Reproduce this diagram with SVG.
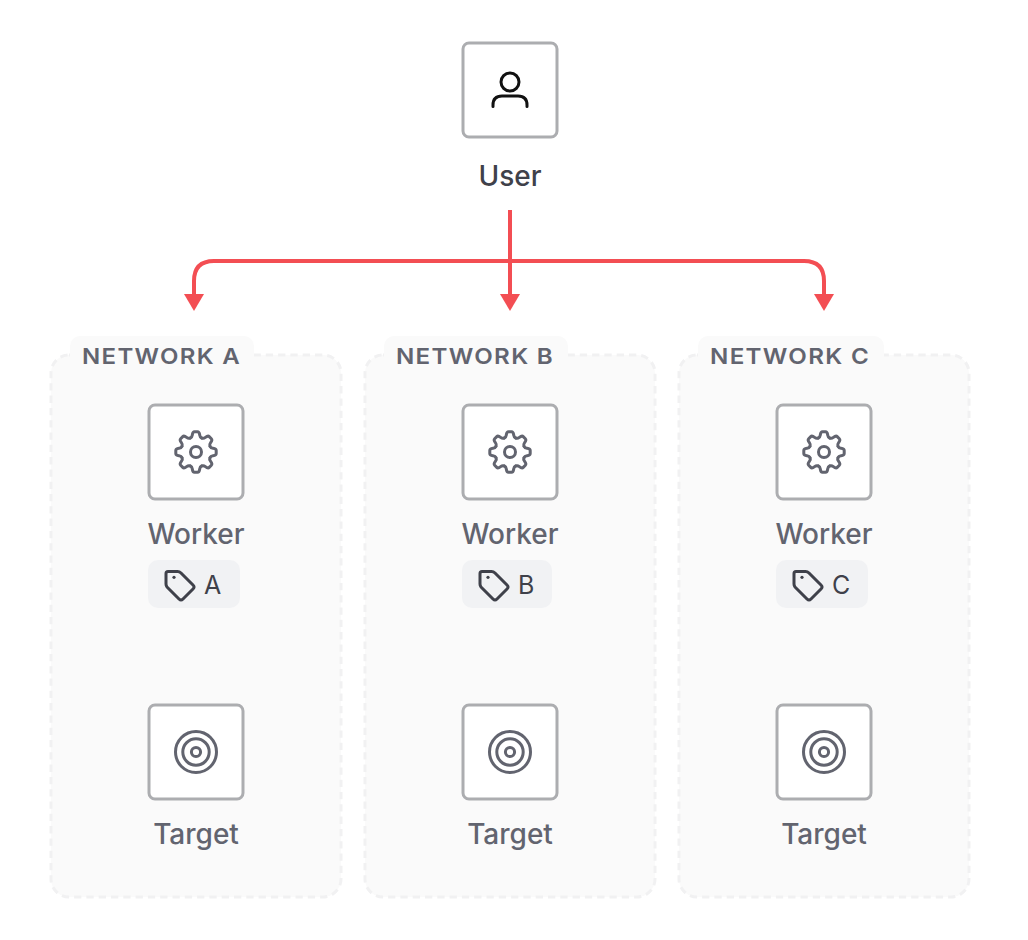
<svg xmlns="http://www.w3.org/2000/svg" xmlns:xlink="http://www.w3.org/1999/xlink" width="1028" height="940" viewBox="0 0 1028 940">
<style>
text{font-family:Inter,"Liberation Sans",sans-serif;}
.panel{fill:#fafafa;stroke:#f1f1f2;stroke-width:3;stroke-dasharray:7.300 5;}
.tab{fill:#fafafa;}
.net{font-size:22px;font-weight:600;fill:#62646f;letter-spacing:1.200px;}
.box{fill:#fff;stroke:#acadb0;stroke-width:3;}
.lab{font-size:28px;font-weight:500;fill:#62646f;text-anchor:middle;}
.chip{fill:#f1f2f4;}
.chiptext{font-size:25px;fill:#3f414a;}
.ico{fill:none;stroke:#62646f;stroke-width:3;stroke-linecap:round;stroke-linejoin:round;}
.conn{fill:none;stroke:#f34e53;stroke-width:4;}
.head{fill:#f34e53;}
</style>
<defs>
<g id="gear" class="ico">
<circle r="5.500"/>
<path id="t" d="M-5.700-14Q-4-14.600-3.700-17Q-3.300-20.200-1.500-20.200H1.500Q3.300-20.200 3.700-17Q4-14.600 5.700-14"/>
<use xlink:href="#t" href="#t" transform="rotate(45)"/>
<use xlink:href="#t" href="#t" transform="rotate(90)"/>
<use xlink:href="#t" href="#t" transform="rotate(135)"/>
<use xlink:href="#t" href="#t" transform="rotate(180)"/>
<use xlink:href="#t" href="#t" transform="rotate(225)"/>
<use xlink:href="#t" href="#t" transform="rotate(270)"/>
<use xlink:href="#t" href="#t" transform="rotate(315)"/>
</g>
<g id="target" class="ico"><circle r="20.500"/><circle r="13.200"/><circle r="4.600"/></g>
<g id="tag" fill="none" stroke="#3f414a" stroke-width="3" stroke-linejoin="round" stroke-linecap="round">
<path d="M0-12.500H9.500Q11.500-12.500 13-11L25 1Q27 3 25 5L15 15Q13 17 11 15L-1 3Q-2 1.500-2 0V-10.500Q-2-12.500 0-12.500Z"/>
<circle cx="6" cy="-6.700" r="1.600" fill="#3f414a" stroke="none"/>
</g>
</defs>

<g id="network-a">
<rect class="panel" x="51" y="355" width="290" height="542" rx="18"/>
<rect class="tab" x="70" y="336" width="184" height="40" rx="10"/>
<text class="net" x="82" y="364" textLength="159" lengthAdjust="spacingAndGlyphs">NETWORK A</text>
</g>
<g id="network-b">
<rect class="panel" x="365" y="355" width="290" height="542" rx="18"/>
<rect class="tab" x="384" y="336" width="184" height="40" rx="10"/>
<text class="net" x="396" y="364" textLength="158" lengthAdjust="spacingAndGlyphs">NETWORK B</text>
</g>
<g id="network-c">
<rect class="panel" x="679" y="355" width="290" height="542" rx="18"/>
<rect class="tab" x="698" y="336" width="186" height="40" rx="10"/>
<text class="net" x="710" y="364" textLength="160" lengthAdjust="spacingAndGlyphs">NETWORK C</text>
</g>

<g id="connectors">
<path class="conn" d="M510 210V298"/>
<path class="conn" d="M510 261H214Q194 261 194 281V298"/>
<path class="conn" d="M510 261H804Q824 261 824 281V298"/>
<path class="head" d="M184 294H204L194 311Z"/>
<path class="head" d="M500 294H520L510 311Z"/>
<path class="head" d="M814 294H834L824 311Z"/>
</g>

<g id="user">
<rect class="box" x="463" y="43" width="94" height="94" rx="6"/>
<g fill="none" stroke="#111" stroke-width="3" stroke-linecap="round">
<circle cx="510" cy="82" r="9"/>
<path d="M493 106.500V105Q493 96 502 96H518Q527 96 527 105V106.500"/>
</g>
<text class="lab" x="510" y="186" style="fill:#3f414a">User</text>
</g>

<g id="worker-a">
<rect class="box" x="149" y="405" width="94" height="94" rx="6"/>
<use href="#gear" xlink:href="#gear" x="196" y="452"/>
<text class="lab" x="196" y="544">Worker</text>
<rect class="chip" x="148" y="560" width="92" height="48" rx="10"/>
<use href="#tag" xlink:href="#tag" x="168" y="584"/>
<text class="chiptext" x="204" y="594">A</text>
</g>
<g id="worker-b">
<rect class="box" x="463" y="405" width="94" height="94" rx="6"/>
<use href="#gear" xlink:href="#gear" x="510" y="452"/>
<text class="lab" x="510" y="544">Worker</text>
<rect class="chip" x="462" y="560" width="90" height="48" rx="10"/>
<use href="#tag" xlink:href="#tag" x="482" y="584"/>
<text class="chiptext" x="518" y="594">B</text>
</g>
<g id="worker-c">
<rect class="box" x="777" y="405" width="94" height="94" rx="6"/>
<use href="#gear" xlink:href="#gear" x="824" y="452"/>
<text class="lab" x="824" y="544">Worker</text>
<rect class="chip" x="776" y="560" width="92" height="48" rx="10"/>
<use href="#tag" xlink:href="#tag" x="796" y="584"/>
<text class="chiptext" x="832" y="594">C</text>
</g>

<g id="target-a">
<rect class="box" x="149" y="705" width="94" height="94" rx="6"/>
<use href="#target" xlink:href="#target" x="196" y="752"/>
<text class="lab" x="196" y="844">Target</text>
</g>
<g id="target-b">
<rect class="box" x="463" y="705" width="94" height="94" rx="6"/>
<use href="#target" xlink:href="#target" x="510" y="752"/>
<text class="lab" x="510" y="844">Target</text>
</g>
<g id="target-c">
<rect class="box" x="777" y="705" width="94" height="94" rx="6"/>
<use href="#target" xlink:href="#target" x="824" y="752"/>
<text class="lab" x="824" y="844">Target</text>
</g>
</svg>
